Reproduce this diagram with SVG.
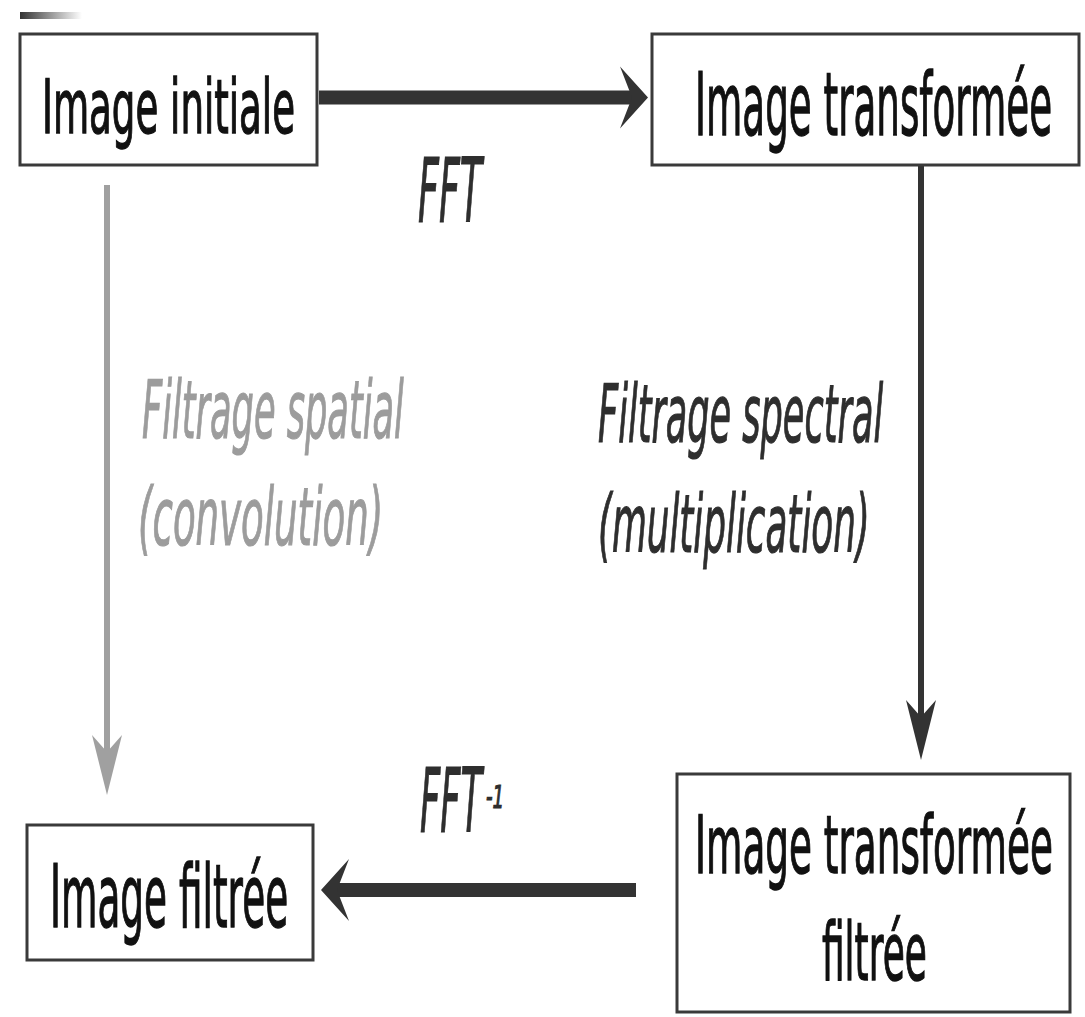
<svg xmlns="http://www.w3.org/2000/svg" width="1085" height="1017" viewBox="0 0 1085 1017">
  <style>
    .box { fill: #ffffff; stroke: #3a3a3a; stroke-width: 3; }
    .label { font-family: "DejaVu Sans", Verdana, sans-serif; fill: #111111; stroke: #111111; stroke-width: 1.4; }
    .note { font-family: "DejaVu Sans", Verdana, sans-serif; font-style: italic; fill: #2e2e2e; stroke: #2e2e2e; stroke-width: 1.2; }
    .note-grey { fill: #9c9c9c; stroke: #9c9c9c; }
    .thick { stroke: #333333; stroke-width: 14; fill: none; }
    .thin { stroke: #333333; stroke-width: 6; fill: none; }
    .thin-grey { stroke: #a0a0a0; stroke-width: 6; fill: none; }
  </style>
  <defs>
    <linearGradient id="bar" x1="0" y1="0" x2="1" y2="0">
      <stop offset="0" stop-color="#333333"/>
      <stop offset="1" stop-color="#333333" stop-opacity="0"/>
    </linearGradient>
    <marker id="head-big" markerUnits="userSpaceOnUse" markerWidth="1" markerHeight="1" refX="0" refY="0" orient="auto" overflow="visible">
      <path d="M-12,-31 L16,0 L-12,31 L0,0 Z" fill="#333333"/>
    </marker>
    <marker id="head-thin" markerUnits="userSpaceOnUse" markerWidth="1" markerHeight="1" refX="0" refY="0" orient="auto" overflow="visible">
      <path d="M-17,-15 L43,0 L-17,15 L0,0 Z" fill="#333333"/>
    </marker>
    <marker id="head-grey" markerUnits="userSpaceOnUse" markerWidth="1" markerHeight="1" refX="0" refY="0" orient="auto" overflow="visible">
      <path d="M-17,-15 L43,0 L-17,15 L0,0 Z" fill="#a0a0a0"/>
    </marker>
  </defs>

  <rect x="0" y="0" width="1085" height="1017" fill="#ffffff"/>
  <rect x="20" y="12" width="62" height="7" fill="url(#bar)"/>

  <g id="connectors">
    <line class="thick" x1="319" y1="97.5" x2="632" y2="97.5" marker-end="url(#head-big)"/>
    <line class="thin" x1="921" y1="165" x2="921" y2="717" marker-end="url(#head-thin)"/>
    <line class="thin-grey" x1="107" y1="185" x2="107" y2="752" marker-end="url(#head-grey)"/>
    <line class="thick" x1="636" y1="890" x2="337" y2="890" marker-end="url(#head-big)"/>
    <g transform="translate(418,222) scale(0.408,1)"><text class="note" x="0" y="0" font-size="89" textLength="157" lengthAdjust="spacingAndGlyphs">FFT</text></g>
    <g transform="translate(142,438) scale(0.44,1)"><text class="note note-grey" x="0" y="0" font-size="80" textLength="595" lengthAdjust="spacingAndGlyphs">Filtrage spatial</text></g>
    <g transform="translate(138,545) scale(0.4635,1)"><text class="note note-grey" x="0" y="0" font-size="80" textLength="529" lengthAdjust="spacingAndGlyphs">(convolution)</text></g>
    <g transform="translate(598,442) scale(0.438,1)"><text class="note" x="0" y="0" font-size="80" textLength="651" lengthAdjust="spacingAndGlyphs">Filtrage spectral</text></g>
    <g transform="translate(598,552) scale(0.447,1)"><text class="note" x="0" y="0" font-size="80" textLength="608" lengthAdjust="spacingAndGlyphs">(multiplication)</text></g>
    <g transform="translate(420,832) scale(0.408,1)"><text class="note" x="0" y="0" font-size="89" textLength="152" lengthAdjust="spacingAndGlyphs">FFT</text></g>
    <g transform="translate(486,808) scale(0.57,1)"><text class="note" x="0" y="0" font-size="32" textLength="32" lengthAdjust="spacingAndGlyphs" stroke-width="0.6">-1</text></g>
  </g>

  <g id="node-initiale">
    <rect class="box" x="20" y="34" width="297" height="131"/>
    <g transform="translate(42,133) scale(0.502,1)"><text class="label" x="0" y="0" font-size="74" textLength="504" lengthAdjust="spacingAndGlyphs">Image initiale</text></g>
  </g>

  <g id="node-transformee">
    <rect class="box" x="652" y="34" width="427" height="131"/>
    <g transform="translate(695,135) scale(0.4226,1)"><text class="label" x="0" y="0" font-size="88" textLength="845" lengthAdjust="spacingAndGlyphs">Image transformée</text></g>
  </g>

  <g id="node-filtree">
    <rect class="box" x="27" y="825" width="286" height="135"/>
    <g transform="translate(50,927) scale(0.423,1)"><text class="label" x="0" y="0" font-size="88" textLength="563" lengthAdjust="spacingAndGlyphs">Image filtrée</text></g>
  </g>

  <g id="node-transformee-filtree">
    <rect class="box" x="677" y="774" width="393" height="238"/>
    <g transform="translate(695,873) scale(0.466,1)"><text class="label" x="0" y="0" font-size="80" textLength="768" lengthAdjust="spacingAndGlyphs">Image transformée</text></g>
    <g transform="translate(822,980) scale(0.446,1)"><text class="label" x="0" y="0" font-size="80" textLength="235" lengthAdjust="spacingAndGlyphs">filtrée</text></g>
  </g>
</svg>
